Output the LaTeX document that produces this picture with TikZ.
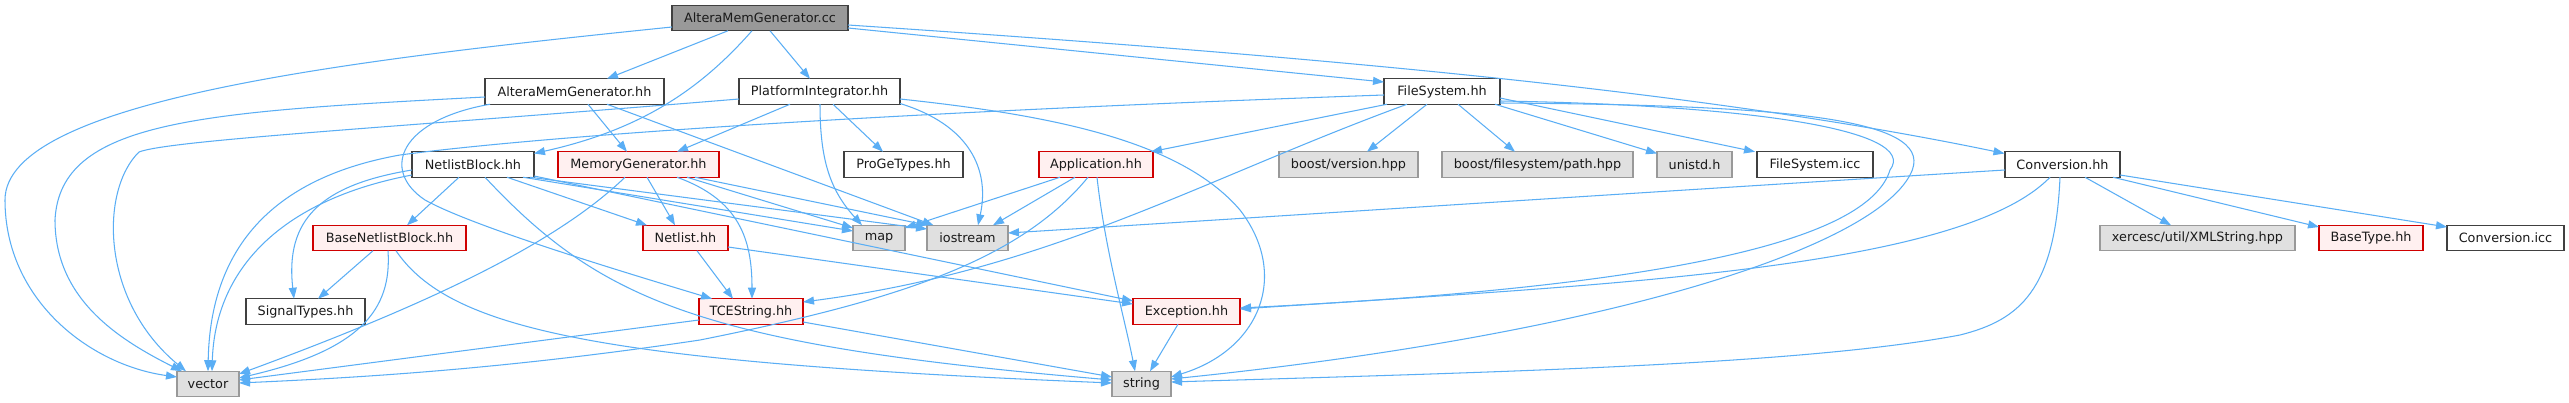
\documentclass[tikz,border=0pt]{standalone}
\usepackage{fontspec}
\setmainfont{DejaVu Sans}
\usetikzlibrary{arrows.meta}
\definecolor{edgec}{HTML}{5AAEF5}
\definecolor{bordn}{HTML}{404040}
\definecolor{bordg}{HTML}{999999}
\definecolor{fillg}{HTML}{E0E0E0}
\definecolor{fillr}{HTML}{FFF0F0}
\definecolor{bordr}{HTML}{D00000}
\definecolor{fillroot}{HTML}{999999}
\definecolor{txtc}{HTML}{1A1A1A}
\begin{document}
\begin{tikzpicture}[x=1pt,y=-1pt,
 box/.style={rectangle, inner sep=0pt, minimum height=25.5pt, line width=1.1pt, font=\fontsize{12.8}{15}\selectfont, text=txtc},
 nrm/.style={box, draw=bordn, fill=white},
 ext/.style={box, draw=bordg, fill=fillg},
 trunc/.style={box, draw=bordr, fill=fillr},
 rootb/.style={box, draw=bordn, fill=fillroot},
 dep/.style={draw=edgec, line width=1.05pt, -{Triangle[length=11pt,width=8pt]}}
]
\fill[white] (0,0) rectangle (2569,403);
\useasboundingbox (0,0) rectangle (2569,403);

% row 0
\node[rootb, minimum width=176pt] (root) at (760,18) {AlteraMemGenerator.cc};
% row 1
\node[nrm, minimum width=179pt] (amgh) at (574.5,91.5) {AlteraMemGenerator.hh};
\node[nrm, minimum width=161pt] (pi) at (819.5,91.5) {PlatformIntegrator.hh};
\node[nrm, minimum width=116pt] (fs) at (1442,91.5) {FileSystem.hh};
% row 2
\node[nrm, minimum width=122pt] (nb) at (473,164.5) {NetlistBlock.hh};
\node[trunc, minimum width=161pt] (mg) at (638.5,164.5) {MemoryGenerator.hh};
\node[nrm, minimum width=119pt] (pgt) at (903.5,164.5) {ProGeTypes.hh};
\node[trunc, minimum width=114pt] (app) at (1096,164.5) {Application.hh};
\node[ext, minimum width=139pt] (bv) at (1348.5,164.5) {boost/version.hpp};
\node[ext, minimum width=191pt] (bfp) at (1537.5,164.5) {boost/filesystem/path.hpp};
\node[ext, minimum width=75pt] (un) at (1694.5,164.5) {unistd.h};
\node[nrm, minimum width=116pt] (fsi) at (1815,164.5) {FileSystem.icc};
\node[nrm, minimum width=115pt] (conv) at (2062.5,164.5) {Conversion.hh};
% row 3
\node[trunc, minimum width=153pt] (bnb) at (389.5,238) {BaseNetlistBlock.hh};
\node[trunc, minimum width=85pt] (nl) at (685.5,238) {Netlist.hh};
\node[ext, minimum width=52pt] (map) at (879,238) {map};
\node[ext, minimum width=81pt] (ios) at (967.5,238) {iostream};
\node[ext, minimum width=195pt] (xml) at (2197.5,238) {xercesc/util/XMLString.hpp};
\node[trunc, minimum width=104pt] (bt) at (2371,238) {BaseType.hh};
\node[nrm, minimum width=117pt] (ci) at (2505.5,238) {Conversion.icc};
% row 4
\node[nrm, minimum width=119pt] (st) at (305.5,311.5) {SignalTypes.hh};
\node[trunc, minimum width=104pt] (tce) at (751,311.5) {TCEString.hh};
\node[trunc, minimum width=107pt] (exc) at (1186.5,311.5) {Exception.hh};
% row 5
\node[ext, minimum width=62pt] (vec) at (208,384) {vector};
\node[ext, minimum width=59pt] (str) at (1141.5,384) {string};

% root edges
\draw[dep] ([shift={(-32,12.75)}]root.center) -- ([shift={(32.5,-12.75)}]amgh.center);
\draw[dep] ([shift={(10,12.75)}]root.center) -- ([shift={(-9.5,-12.75)}]pi.center);
\draw[dep] ([shift={(-8,12.75)}]root.center) .. controls (700,90) and (640,130) .. ([shift={(61,-11)}]nb.center);
\draw[dep] ([shift={(88,10)}]root.center) -- ([shift={(-58,-9.5)}]fs.center);
\draw[dep] ([shift={(88,7)}]root.center) .. controls (1300,55) and (1700,90) .. ([shift={(-58,-11)}]conv.center);
\draw[dep] ([shift={(-88,9)}]root.center) .. controls (350,60) and (5,100) .. (5,200) .. controls (5,300) and (90,365) .. ([shift={(-31,-7)}]vec.center);

% AlteraMemGenerator.hh edges
\draw[dep] ([shift={(13.5,12.75)}]amgh.center) -- ([shift={(-11.5,-12.75)}]mg.center);
\draw[dep] ([shift={(-89.5,5.5)}]amgh.center) .. controls (200,112) and (60,120) .. (55,220) .. controls (55,300) and (120,340) .. ([shift={(-26,-12.75)}]vec.center);
\draw[dep] ([shift={(-84.5,12.75)}]amgh.center) .. controls (400,120) and (380,170) .. (425,200) .. controls (470,225) and (600,265) .. ([shift={(-39,-12.75)}]tce.center);
\draw[dep] ([shift={(32.5,12.75)}]amgh.center) -- ([shift={(-34,-12.75)}]ios.center);

% PlatformIntegrator.hh edges
\draw[dep] ([shift={(-29.5,12.75)}]pi.center) -- ([shift={(38.5,-12.75)}]mg.center);
\draw[dep] ([shift={(13.5,12.75)}]pi.center) -- ([shift={(-20.5,-12.75)}]pgt.center);
\draw[dep] ([shift={(0.5,12.75)}]pi.center) .. controls (820,160) and (830,190) .. ([shift={(-17,-12.75)}]map.center);
\draw[dep] ([shift={(80.5,12)}]pi.center) .. controls (970,125) and (990,170) .. ([shift={(10.5,-12.75)}]ios.center);
\draw[dep] ([shift={(80.5,7.5)}]pi.center) .. controls (1050,115) and (1180,140) .. (1240,210) .. controls (1290,275) and (1260,350) .. ([shift={(29.5,-7)}]str.center);
\draw[dep] ([shift={(-80.5,7.5)}]pi.center) .. controls (400,127) and (170,140) .. (139,152) .. controls (100,190) and (100,300) .. ([shift={(-22,-12.75)}]vec.center);

% FileSystem.hh edges
\draw[dep] ([shift={(-58,3.5)}]fs.center) .. controls (900,112) and (550,135) .. (400,155) .. controls (260,180) and (210,260) .. ([shift={(0,-12.75)}]vec.center);
\draw[dep] ([shift={(-55,12.75)}]fs.center) -- ([shift={(55,-12.75)}]app.center);
\draw[dep] ([shift={(-35,12.75)}]fs.center) .. controls (1200,180) and (1050,270) .. ([shift={(52,-9.5)}]tce.center);
\draw[dep] ([shift={(-15,12.75)}]fs.center) -- ([shift={(18.5,-12.75)}]bv.center);
\draw[dep] ([shift={(16,12.75)}]fs.center) -- ([shift={(-22.5,-12.75)}]bfp.center);
\draw[dep] ([shift={(53,12.75)}]fs.center) -- ([shift={(-37.5,-11)}]un.center);
\draw[dep] ([shift={(58,6.5)}]fs.center) -- ([shift={(-60,-12.75)}]fsi.center);
\draw[dep] ([shift={(58,9.5)}]fs.center) .. controls (1750,105) and (1920,130) .. (1890,170) .. controls (1870,235) and (1700,285) .. ([shift={(53.5,-3.5)}]exc.center);
\draw[dep] ([shift={(58,11.5)}]fs.center) .. controls (1800,105) and (1940,120) .. (1910,175) .. controls (1870,250) and (1600,335) .. ([shift={(29.5,-5)}]str.center);

% Conversion.hh edges
\draw[dep] ([shift={(-57.5,5.5)}]conv.center) .. controls (1600,195) and (1300,215) .. ([shift={(40.5,-5)}]ios.center);
\draw[dep] ([shift={(-12.5,12.75)}]conv.center) .. controls (1960,270) and (1600,285) .. ([shift={(53.5,-2.5)}]exc.center);
\draw[dep] ([shift={(-2.5,12.75)}]conv.center) .. controls (2055,290) and (2020,320) .. (1960,335) .. controls (1800,365) and (1500,372) .. ([shift={(29.5,-2)}]str.center);
\draw[dep] ([shift={(22.5,12.75)}]conv.center) -- ([shift={(-26.5,-12.75)}]xml.center);
\draw[dep] ([shift={(50.5,12.75)}]conv.center) -- ([shift={(-52,-11)}]bt.center);
\draw[dep] ([shift={(57.5,10.5)}]conv.center) -- ([shift={(-58.5,-11)}]ci.center);

% Application.hh edges
\draw[dep] ([shift={(-36,12.75)}]app.center) -- ([shift={(26,-10)}]map.center);
\draw[dep] ([shift={(-21,12.75)}]app.center) -- ([shift={(25.5,-12.75)}]ios.center);
\draw[dep] ([shift={(-8,12.75)}]app.center) .. controls (1020,260) and (900,300) .. (700,340) .. controls (500,370) and (350,378) .. ([shift={(31,-1)}]vec.center);
\draw[dep] ([shift={(1,12.75)}]app.center) .. controls (1105,250) and (1125,320) .. ([shift={(-6.5,-12.75)}]str.center);

% MemoryGenerator.hh edges
\draw[dep] ([shift={(8.5,12.75)}]mg.center) -- ([shift={(-10.5,-12.75)}]nl.center);
\draw[dep] ([shift={(38.5,12.75)}]mg.center) .. controls (740,200) and (752,240) .. ([shift={(1,-12.75)}]tce.center);
\draw[dep] ([shift={(48.5,12.75)}]mg.center) -- ([shift={(-26,-10)}]map.center);
\draw[dep] ([shift={(56.5,12.75)}]mg.center) -- ([shift={(-40,-12.75)}]ios.center);
\draw[dep] ([shift={(-13.5,12.75)}]mg.center) .. controls (560,240) and (440,300) .. ([shift={(31,-10)}]vec.center);

% NetlistBlock.hh edges
\draw[dep] ([shift={(-14,12.75)}]nb.center) -- ([shift={(17.5,-12.75)}]bnb.center);
\draw[dep] ([shift={(-61,5.5)}]nb.center) .. controls (320,185) and (285,220) .. ([shift={(-11.5,-12.75)}]st.center);
\draw[dep] ([shift={(-61,10.5)}]nb.center) .. controls (280,200) and (215,270) .. ([shift={(4,-12.75)}]vec.center);
\draw[dep] ([shift={(34,12.75)}]nb.center) -- ([shift={(-38.5,-12.75)}]nl.center);
\draw[dep] ([shift={(50,12.75)}]nb.center) -- ([shift={(-26,-7)}]map.center);
\draw[dep] ([shift={(57,12.75)}]nb.center) -- ([shift={(-40.5,-9)}]ios.center);
\draw[dep] ([shift={(61,11.5)}]nb.center) -- ([shift={(-53.5,-10.5)}]exc.center);
\draw[dep] ([shift={(12,12.75)}]nb.center) .. controls (600,300) and (700,345) .. ([shift={(-29.5,-4)}]str.center);

% BaseNetlistBlock.hh edges
\draw[dep] ([shift={(-16.5,12.75)}]bnb.center) -- ([shift={(12.5,-12.75)}]st.center);
\draw[dep] ([shift={(-1.5,12.75)}]bnb.center) .. controls (392,310) and (360,350) .. ([shift={(31,-6)}]vec.center);
\draw[dep] ([shift={(6.5,12.75)}]bnb.center) .. controls (450,330) and (600,362) .. ([shift={(-29.5,-1)}]str.center);

% Netlist.hh edges
\draw[dep] ([shift={(11.5,12.75)}]nl.center) -- ([shift={(-18,-12.75)}]tce.center);
\draw[dep] ([shift={(42.5,9)}]nl.center) -- ([shift={(-53.5,-7.5)}]exc.center);

% TCEString.hh edges
\draw[dep] ([shift={(-52,8.5)}]tce.center) -- ([shift={(31,-4)}]vec.center);
\draw[dep] ([shift={(52,10.5)}]tce.center) -- ([shift={(-29.5,-7)}]str.center);

% Exception.hh edges
\draw[dep] ([shift={(-8.5,12.75)}]exc.center) -- ([shift={(8.5,-12.75)}]str.center);
\end{tikzpicture}
\end{document}
